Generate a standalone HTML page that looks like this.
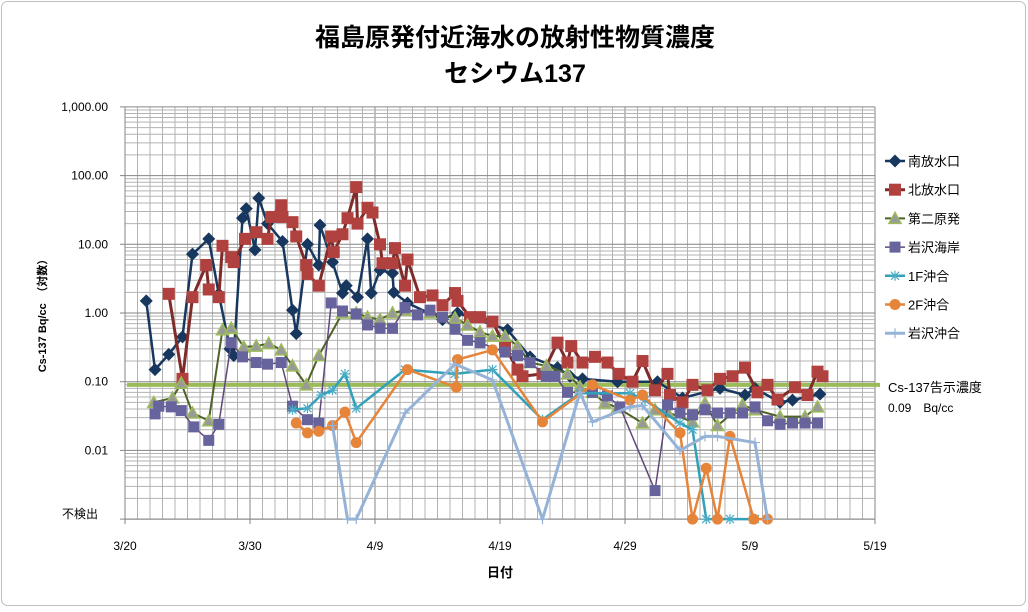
<!DOCTYPE html>
<html><head><meta charset="utf-8"><style>
html,body{margin:0;padding:0;background:#fff;}
svg{display:block;font-family:"Liberation Sans","Noto Sans CJK JP",sans-serif;}
</style></head><body>
<svg id="chart" width="1028" height="612" viewBox="0 0 1028 612" xmlns="http://www.w3.org/2000/svg">
<rect x="1.5" y="1.5" width="1024" height="604" rx="6" fill="#fff" stroke="#bfbfbf"/>
<text x="515" y="46" text-anchor="middle" font-size="25" font-weight="bold" fill="#000">福島原発付近海水の放射性物質濃度</text>
<text x="515" y="82" text-anchor="middle" font-size="25" font-weight="bold" fill="#000">セシウム137</text>
<g id="grid"></g>
<g id="axes"></g>
<g id="series"></g>
<g id="legend"></g>
<text x="888" y="392" font-size="13" fill="#000">Cs-137告示濃度</text>
<text x="888" y="412" font-size="12" fill="#000">0.09　Bq/cc</text>
<text transform="translate(46,313) rotate(-90)" text-anchor="middle" font-size="11" font-weight="bold" fill="#000">Cs-137 Bq/cc　（対数）</text>
<text x="500" y="577" text-anchor="middle" font-size="13" font-weight="bold" fill="#000">日付</text>
</svg>
<script>
const xTickDays=[0,10,20,30,40,50,60];
const xTickLabels=["3/20","3/30","4/9","4/19","4/29","5/9","5/19"];
const yTickValues=[1000,100,10,1,0.1,0.01,0.001];
const yTickLabels=["1,000.00","100.00","10.00","1.00","0.10","0.01","不検出"];
const threshold=0.09;

const s1Days=[1.7,2.4,3.5,4.6,5.4,6.7,7.5,8.4,8.7,9.4,9.7,10.4,10.7,11.4,12.6,13.4,13.7,14.6,15.5,15.6,16.6,17.4,17.7,18.6,19.4,19.7,20.4,21.4,21.5,22.6,25.4,26.6,30.6,32.4,34.6,35.6,36.6,39.4,42.6,44.6,47.6,49.6,50.4,52.4,53.4,55.6];
const s1Vals=[1.5,0.15,0.25,0.45,7.2,12,1.9,0.3,0.24,24,33,8.3,47,20,11,1.1,0.5,10,5,19,5.5,1.95,2.5,1.7,12,1.95,4.2,3.8,2,1.4,0.8,1,0.57,0.23,0.16,0.12,0.11,0.1,0.1,0.058,0.08,0.064,0.08,0.05,0.054,0.066];

const s2Days=[3.5,4.6,5.4,6.5,6.7,7.5,7.8,8.5,8.7,9.6,10.5,11.4,11.7,12.5,12.6,13.4,13.7,14.5,14.6,15.5,16.5,16.7,17.4,17.8,18.5,18.6,19.4,19.8,20.4,20.6,21.4,21.6,22.4,22.6,23.6,24.6,25.4,26.4,26.6,27.6,28.4,29.4,30.4,31.4,31.8,33.4,34.6,35.4,35.7,36.6,37.6,38.6,39.5,40.6,41.4,42.4,43.4,43.6,44.6,45.4,46.6,47.6,48.6,49.6,50.6,51.4,52.2,53.6,54.6,55.4,55.8];
const s2Vals=[1.9,0.11,1.7,5,2.2,1.7,9.5,6.5,5.5,12,15,12,25,37,25,21,13,5,3.7,2.5,13,7.7,14,24,68,20,34,29,10,5.3,5.3,8.8,2.5,6,1.7,1.8,1.3,1.95,1.5,0.87,0.87,0.75,0.32,0.15,0.12,0.13,0.37,0.19,0.33,0.19,0.23,0.19,0.13,0.1,0.2,0.075,0.13,0.064,0.05,0.09,0.075,0.11,0.12,0.16,0.07,0.09,0.055,0.083,0.064,0.14,0.12];

const s3Days=[2.3,3.8,4.5,5.4,6.7,7.8,8.5,9.5,10.5,11.5,12.5,13.4,14.5,15.5,17.4,18.5,19.4,20.4,21.4,22.4,24.4,26.4,27.4,28.4,29.4,30.4,31.4,32.4,33.7,35.4,36.4,37.4,38.4,39.4,41.4,42.4,43.4,45.4,46.4,47.4,49.4,50.4,52.4,54.4,55.4];
const s3Vals=[0.05,0.058,0.095,0.035,0.027,0.57,0.6,0.32,0.33,0.36,0.29,0.17,0.09,0.24,1.0,1.0,0.87,0.8,1.0,1.1,1.0,0.85,0.67,0.53,0.46,0.46,0.33,0.19,0.17,0.13,0.084,0.07,0.049,0.042,0.025,0.039,0.036,0.026,0.049,0.023,0.046,0.039,0.031,0.031,0.043];

const s4Days=[2.4,2.7,3.7,4.5,5.5,6.7,7.5,8.5,9.4,10.5,11.4,12.5,13.4,14.6,15.5,16.5,17.4,18.5,19.4,20.4,21.4,22.4,23.4,24.4,25.4,26.4,27.4,28.4,30.4,31.4,32.4,33.7,34.4,35.4,37.4,38.6,39.6,42.4,43.4,44.4,45.4,46.4,47.4,48.4,49.4,50.4,51.4,52.4,53.4,54.4,55.4];
const s4Vals=[0.034,0.044,0.043,0.038,0.022,0.014,0.024,0.37,0.23,0.19,0.18,0.19,0.044,0.028,0.025,1.4,1.07,0.97,0.67,0.6,0.6,1.2,0.94,1.1,0.87,0.58,0.4,0.37,0.27,0.24,0.19,0.12,0.12,0.07,0.07,0.062,0.043,0.0026,0.046,0.035,0.033,0.039,0.035,0.035,0.035,0.043,0.027,0.024,0.025,0.025,0.025];

const s5Days=[13.4,14.6,15.7,16.6,17.6,18.5,22.4,26.4,29.4,33.4,36.4,40.4,41.6,44.4,45.4,46.5,48.4,50.4];
const s5Vals=[0.039,0.041,0.064,0.075,0.13,0.041,0.15,0.13,0.15,0.028,0.068,0.068,0.054,0.025,0.02,0.001,0.001,0.001];

const s6Days=[13.7,14.6,15.5,16.6,17.6,18.5,22.6,26.5,26.6,29.4,33.4,37.4,40.4,41.4,44.4,45.4,46.5,47.4,48.4,50.3,51.4];
const s6Vals=[0.025,0.018,0.019,0.023,0.036,0.013,0.15,0.083,0.21,0.29,0.026,0.09,0.054,0.064,0.018,0.001,0.0055,0.001,0.016,0.001,0.001];

const s7Days=[16.6,17.8,18.5,22.4,26.4,29.4,33.4,36.4,37.4,40.4,41.4,44.4,46.4,47.4,50.4,51.4];
const s7Vals=[0.023,0.001,0.001,0.035,0.18,0.106,0.001,0.07,0.026,0.043,0.045,0.01,0.016,0.016,0.013,0.001];

const seriesNames=["南放水口","北放水口","第二原発","岩沢海岸","1F沖合","2F沖合","岩沢沖合"];

const X0=125, PXD=12.5, Y1=313, PDEC=68.7;
function xs(d){return X0+d*PXD;}
function ys(v){return Y1-PDEC*Math.log10(v);}
const NS="http://www.w3.org/2000/svg";
function mk(tag,attrs,parent){const e=document.createElementNS(NS,tag);for(const k in attrs)e.setAttribute(k,attrs[k]);parent.appendChild(e);return e;}

const grid=document.getElementById('grid');
for(let d=0;d<=60;d++){
  const l=mk('line',{x1:xs(d),x2:xs(d),y1:ys(1000),y2:ys(0.001),stroke:d%10===0?'#868686':'#b3b3b3','stroke-width':1},grid);
  
  
}
for(let e=-3;e<3;e++){
  for(let m=1;m<10;m++){
    const v=m*Math.pow(10,e);
    const l=mk('line',{x1:xs(0),x2:xs(60),y1:ys(v),y2:ys(v),stroke:m===1?'#868686':'#b3b3b3','stroke-width':1},grid);
    
    
  }
}
const tl=mk('line',{x1:xs(0),x2:xs(60),y1:ys(1000),y2:ys(1000),stroke:'#868686'},grid);



const axes=document.getElementById('axes');
const ya=mk('line',{x1:xs(0),x2:xs(0),y1:ys(1000),y2:ys(0.001),stroke:'#868686'},axes);


const xa=mk('line',{x1:xs(0),x2:xs(60),y1:ys(0.001),y2:ys(0.001),stroke:'#868686'},axes);


yTickValues.forEach((v,i)=>{
  const isND=(i===yTickValues.length-1);
  const t=mk('text',{x:isND?98:108,y:ys(v)+(isND?-1:4),'text-anchor':'end','font-size':12,fill:'#000'},axes);
  t.textContent=yTickLabels[i];
  
  
  const tk=mk('line',{x1:xs(0)-5,x2:xs(0),y1:ys(v),y2:ys(v),stroke:'#868686'},axes);
  
  
});
xTickDays.forEach((d,i)=>{
  const t=mk('text',{x:xs(d),y:550,'text-anchor':'middle','font-size':12,fill:'#000'},axes);
  t.textContent=xTickLabels[i];
  
  
  const tk=mk('line',{x1:xs(d),x2:xs(d),y1:ys(0.001),y2:ys(0.001)+5,stroke:'#868686'},axes);
  
  
});

const styles=[
 {line:'#17375e',fill:'#17375e',stroke:'#17375e',w:2.5,m:'diamond',s:6.5},
 {line:'#7f2b2a',fill:'#b0413e',stroke:'#b0413e',w:3,m:'square',s:6},
 {line:'#4f6228',fill:'#999999',stroke:'#9bbb59',w:2,m:'triangle',s:6},
 {line:'#5f497a',fill:'#67639c',stroke:'#67639c',w:1.5,m:'square',s:5.5},
 {line:'#31a0b8',fill:'none',stroke:'#4bacc6',w:2.5,m:'star',s:5},
 {line:'#e6843a',fill:'#e6843a',stroke:'#e6843a',w:2.5,m:'circle',s:5.5},
 {line:'#95b3d7',fill:'none',stroke:'#95b3d7',w:3,m:'plus',s:5}
];
const allDays=[s1Days,s2Days,s3Days,s4Days,s5Days,s6Days,s7Days];
const allVals=[s1Vals,s2Vals,s3Vals,s4Vals,s5Vals,s6Vals,s7Vals];

function marker(g,type,x,y,st){
  const s=st.s;let e;
  if(type==='diamond') e=mk('polygon',{points:`${x},${y-s} ${x+s},${y} ${x},${y+s} ${x-s},${y}`,fill:st.fill},g);
  else if(type==='square') e=mk('rect',{x:x-s,y:y-s,width:2*s,height:2*s,fill:st.fill},g);
  else if(type==='triangle') e=mk('polygon',{points:`${x},${y-s} ${x+s},${y+s-1} ${x-s},${y+s-1}`,fill:st.fill,stroke:st.stroke,'stroke-width':1.5},g);
  else if(type==='circle') e=mk('circle',{cx:x,cy:y,r:s,fill:st.fill},g);
  else if(type==='star') e=mk('path',{d:`M${x-5},${y}H${x+5}M${x},${y-5}V${y+5}M${x-4},${y-4}L${x+4},${y+4}M${x-4},${y+4}L${x+4},${y-4}`,stroke:st.stroke,'stroke-width':1.2,fill:'none'},g);
  else e=mk('path',{d:`M${x-5},${y}H${x+5}M${x},${y-5}V${y+5}`,stroke:st.stroke,'stroke-width':1.2,fill:'none'},g);
  return e;
}

const ser=document.getElementById('series');
const thr=mk('line',{x1:xs(0)+2,x2:880,y1:ys(threshold),y2:ys(threshold),stroke:'#9bbb59','stroke-width':4},ser);



allDays.forEach((days,si)=>{
  const st=styles[si];const vals=allVals[si];
  const g=mk('g',{},ser);
  
  
  const pts=days.map((d,i)=>xs(d)+','+ys(vals[i])).join(' ');
  const pl=mk('polyline',{points:pts,fill:'none',stroke:st.line,'stroke-width':st.w,'stroke-linejoin':'round'},g);
  
  
  days.forEach((d,i)=>{
    const m=marker(g,st.m,xs(d),ys(vals[i]),st);
    
    
  });
});

const lg=document.getElementById('legend');
seriesNames.forEach((n,i)=>{
  const st=styles[i];const y=161+i*28.7;
  const g=mk('g',{},lg);
  
  
  mk('line',{x1:885,x2:905,y1:y,y2:y,stroke:st.line,'stroke-width':st.w},g);
  marker(g,st.m,895,y,st);
  const t=mk('text',{x:908,y:y+5,'font-size':13,fill:'#000'},g);
  t.textContent=n;
});
</script>
</body></html>
